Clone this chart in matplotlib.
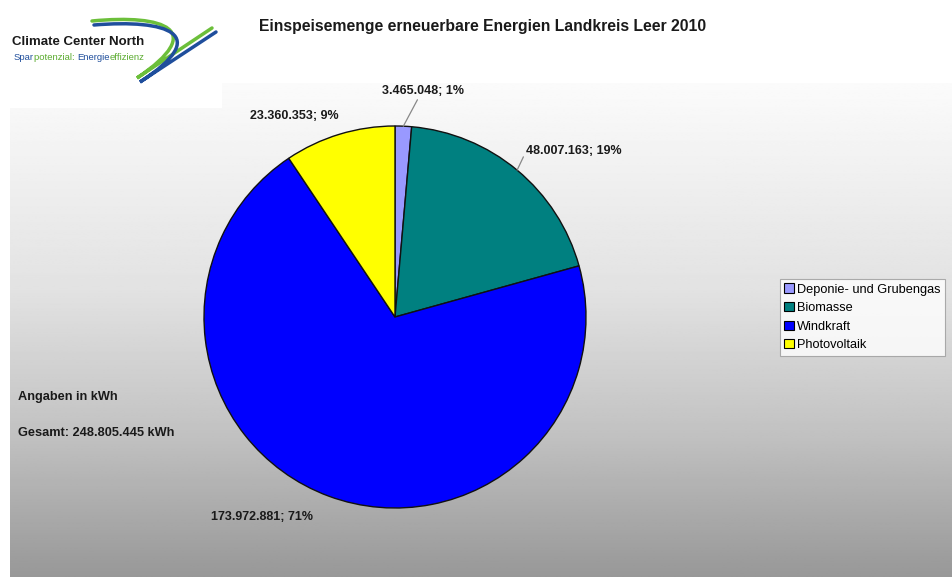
import numpy as np
import matplotlib
matplotlib.use("Agg")
import matplotlib.pyplot as plt
from matplotlib.patches import Patch, Rectangle, PathPatch
from matplotlib.path import Path

plt.rcParams['font.family'] = ['Liberation Sans', 'DejaVu Sans']

# data
sources = ['Deponie- und Grubengas', 'Biomasse', 'Windkraft', 'Photovoltaik']
kwh = [3465048, 48007163, 173972881, 23360353]
pct_labels = [1, 19, 71, 9]   # as printed on the original chart
colors = ['#9999FF', '#008080', '#0000FF', '#FFFF00']
title = 'Einspeisemenge erneuerbare Energien Landkreis Leer 2010'
total = sum(kwh)

W, H = 952, 577
fig = plt.figure(figsize=(W / 100, H / 100), dpi=100)

# background axes in pixel coordinates
bg = fig.add_axes([0, 0, 1, 1], zorder=0)
bg.set_xlim(0, W); bg.set_ylim(H, 0); bg.axis('off')

# grey gradient plot area
ys = np.linspace(0, 1, 300)
shade = np.interp(ys, [0, 0.42, 0.70, 1.0], [251, 226, 195, 152]) / 255
grad = np.repeat(shade[:, None], 2, axis=1)
bg.imshow(grad, cmap='gray', vmin=0, vmax=1, extent=(10, W, H, 83), aspect='auto', zorder=0)
bg.set_xlim(0, W); bg.set_ylim(H, 0)

# logo box
bg.add_patch(Rectangle((0, 0), 222, 108, facecolor='white', edgecolor='none', zorder=1))
bg.text(12, 42, 'Climate Center North', fontsize=9.5, fontweight='bold', color='#1a1a1a',
        va='center', zorder=2)
pieces = [('Spar', '#1f4e9c'), ('potenzial: ', '#5aab2e'), ('Energie', '#1f4e9c'), ('effizienz', '#5aab2e')]
renderer = fig.canvas.get_renderer()
x0 = 14
for s, c in pieces:
    t = bg.text(x0, 57, s, fontsize=6.8, color=c, va='center', zorder=2)
    x0 += t.get_window_extent(renderer).width

def swoosh(verts, codes, color):
    bg.add_patch(PathPatch(Path(verts, codes), facecolor='none', edgecolor=color, lw=2.5,
                           capstyle='round', zorder=2))

C4, MT, LT = Path.CURVE4, Path.MOVETO, Path.LINETO
swoosh([(92, 21), (165, 14), (208, 30), (137, 78), (212, 28)], [MT, C4, C4, C4, LT], '#6cbf3a')
swoosh([(94, 25), (167, 19), (214, 34), (140, 82), (216, 32)], [MT, C4, C4, C4, LT], '#1f4e9c')

# title
bg.text(483, 27, title, fontsize=11.3, fontweight='bold', color='#1a1a1a', ha='center', va='center')

# pie
cx, cy, r = 395, 317, 191
ax = fig.add_axes([(cx - r) / W, (H - cy - r) / H, 2 * r / W, 2 * r / H], zorder=1)
wedges, _ = ax.pie(kwh, colors=colors, startangle=90, counterclock=False,
                   wedgeprops=dict(edgecolor='#111111', linewidth=1.0))
ax.set_xlim(-1, 1); ax.set_ylim(-1, 1)

# data labels
label_pos = [(423, 91), (574, 151), (262, 517), (294, 116)]
leaders = [(0.45, 0.0), (0.0, 0.5), None, None]
frac = np.array(kwh) / total
mids = 90 - 360 * (np.cumsum(frac) - frac / 2)
for i, v in enumerate(kwh):
    txt = f"{v:,}".replace(',', '.') + f"; {pct_labels[i]}%"
    a = np.deg2rad(mids[i])
    xy = (np.cos(a), np.sin(a))
    kw = {}
    if leaders[i] is not None:
        kw['arrowprops'] = dict(arrowstyle='-', color='#888888', lw=0.9, shrinkA=0, shrinkB=0,
                                relpos=leaders[i])
    ax.annotate(txt, xy=xy, xycoords='data', xytext=label_pos[i], textcoords=bg.transData,
                ha='center', va='center', fontsize=9, fontweight='bold', color='#1a1a1a',
                annotation_clip=False, **kw)

# side notes
bg.text(18, 397, 'Angaben in kWh', fontsize=9.2, fontweight='bold', color='#1a1a1a', va='center')
bg.text(18, 433, f"Gesamt: {total:,} kWh".replace(',', '.'), fontsize=9.2, fontweight='bold',
        color='#1a1a1a', va='center')

# legend
handles = [Patch(facecolor=c, edgecolor='black', lw=0.8) for c in colors]
leg = fig.legend(handles, sources, loc='upper left', bbox_to_anchor=(780 / W, 1 - 279 / H),
                 fontsize=9.2, frameon=True, fancybox=False, borderpad=0.35, labelspacing=0.5,
                 handlelength=0.75, handleheight=0.75, handletextpad=0.25, borderaxespad=0)
leg.get_frame().set_edgecolor('#999999')
leg.get_frame().set_linewidth(0.8)
leg.set_zorder(3)

fig.savefig('out.png', dpi=100)
